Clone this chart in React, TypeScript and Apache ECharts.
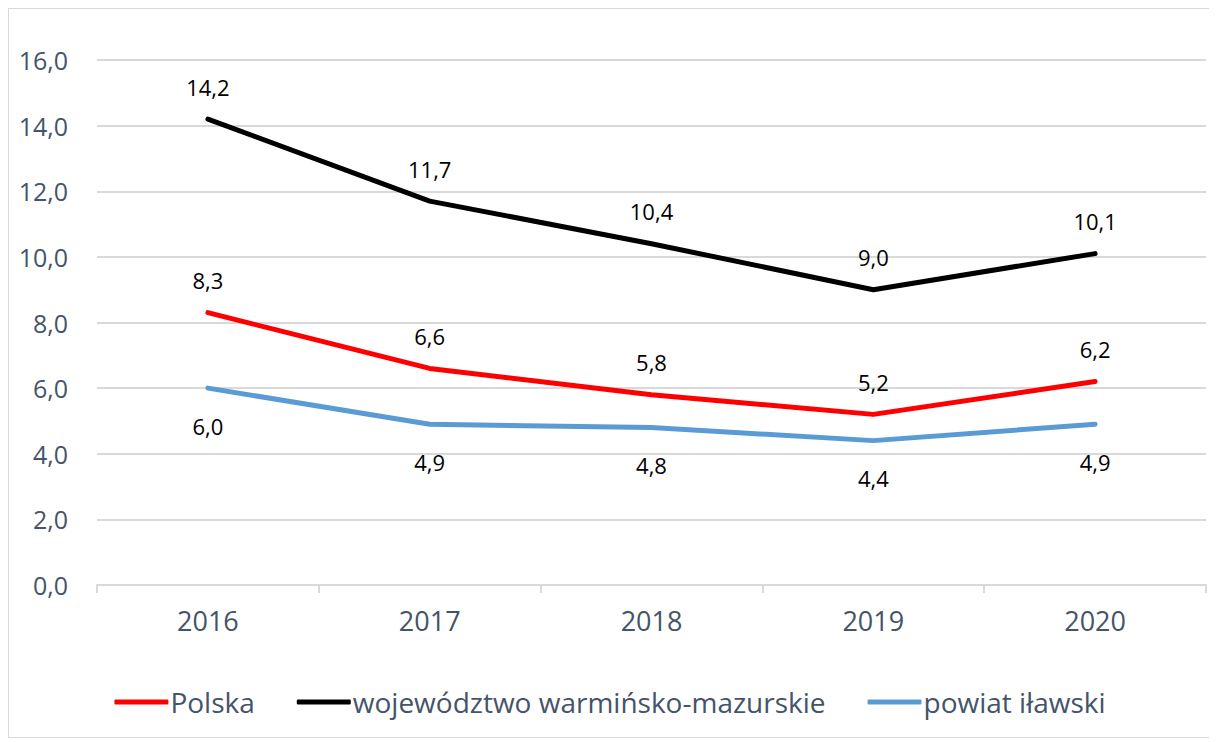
import React, { useEffect, useRef } from "react";
import * as echarts from "echarts";

const categories = ["2016", "2017", "2018", "2019", "2020"];
const polska = [8.3, 6.6, 5.8, 5.2, 6.2];
const wojewodztwo = [14.2, 11.7, 10.4, 9.0, 10.1];
const powiat = [6.0, 4.9, 4.8, 4.4, 4.9];
const seriesNames = ["Polska", "województwo warmińsko-mazurskie", "powiat iławski"];

const FONT = "Open Sans";
const AXIS_COLOR = "#44546a";

const fmt = (v: number) => v.toFixed(1).replace(".", ",");

export default function App() {
  const ref = useRef<HTMLDivElement>(null);
  useEffect(() => {
    if (!ref.current) return;
    const chart = echarts.init(ref.current, null, { renderer: "svg" });
    const mk = (name: string, data: number[], color: string, pos: "top" | "bottom", dist: number) => ({
      name,
      type: "line",
      data,
      symbol: "circle",
      symbolSize: 1,
      showSymbol: true,
      lineStyle: { color, width: 5, cap: "round", join: "round" },
      itemStyle: { color },
      label: {
        show: true,
        position: pos,
        distance: dist,
        color: "#000",
        fontFamily: FONT,
        fontSize: 22,
        formatter: (p: any) => fmt(p.value),
      },
    });
    chart.setOption({
      animation: false,
      grid: { left: 88, right: 5, top: 51, bottom: 152 },
      legend: {
        bottom: 16,
        left: "center",
        itemWidth: 54,
        itemHeight: 5,
        itemGap: 42,
        icon: "roundRect",
        textStyle: { color: AXIS_COLOR, fontFamily: FONT, fontSize: 28, padding: [0, 0, 0, -3] },
        data: seriesNames,
      },
      xAxis: {
        type: "category",
        data: categories,
        boundaryGap: true,
        axisLine: { lineStyle: { color: "#d9d9d9", width: 2 } },
        axisTick: { show: true, length: 8, lineStyle: { color: "#d9d9d9", width: 2 } },
        axisLabel: { color: AXIS_COLOR, fontFamily: FONT, fontSize: 27, margin: 22 },
      },
      yAxis: {
        type: "value",
        min: 0,
        max: 16,
        interval: 2,
        axisLine: { show: false },
        axisTick: { show: false },
        splitLine: { lineStyle: { color: "#d9d9d9", width: 2 } },
        axisLabel: {
          color: AXIS_COLOR,
          fontFamily: FONT,
          fontSize: 25,
          margin: 29,
          formatter: (v: number) => fmt(v),
        },
      },
      series: [
        mk(seriesNames[0], polska, "#ff0000", "top", 21),
        mk(seriesNames[1], wojewodztwo, "#000000", "top", 21),
        mk(seriesNames[2], powiat, "#5b9bd5", "bottom", 26),
      ],
    });
    return () => chart.dispose();
  }, []);
  return (
    <div style={{ width: 1202, height: 728, border: "1px solid #d9d9d9" }}>
      <div ref={ref} style={{ width: 1202, height: 728 }} />
    </div>
  );
}
